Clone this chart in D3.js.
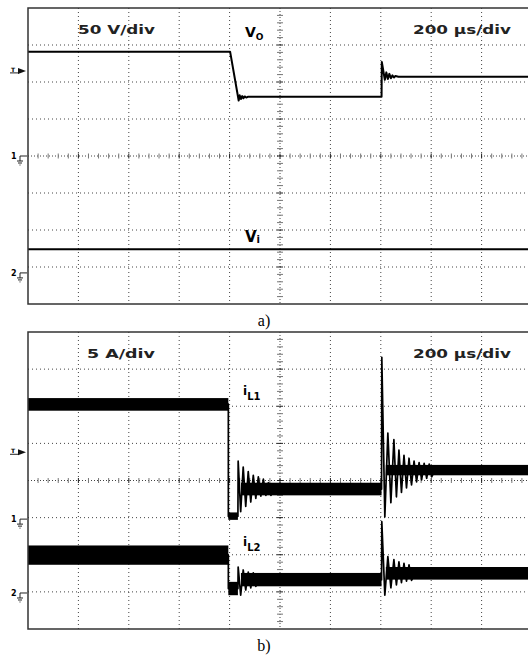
<!DOCTYPE html>
<html>
<head>
<meta charset="utf-8">
<script src="https://cdn.jsdelivr.net/npm/d3@7"></script>
<style>
  body { margin: 0; background: #fff; }
  svg { display: block; }
</style>
</head>
<body>
<svg id="chart" width="528" height="658"></svg>
<script>

// time base: 200 us/div, 10 div
const timeDomain = [0, 2000];

// panel a) ch1 = Vo (50 V/div), ch2 = Vi (50 V/div)
const voT = [0, 802, 836, 840, 845, 850, 855, 860, 866, 872, 880, 1403, 1404, 1416, 1422, 1428, 1434, 1440, 1446, 1452, 1458, 1470, 2010];
const voV = [141, 141, 75, 82, 77, 81, 78, 80.5, 79, 80, 80, 80, 127, 103, 113, 104, 111, 105, 109, 106, 108, 107, 107];
const viT = [0, 2010];
const viV = [32, 32];

// panel b) ch1 = iL1 (5 A/div), ch2 = iL2 (5 A/div)
const iL1T = [0, 795, 795, 833, 834, 844, 854, 864, 874, 884, 894, 904, 914, 924, 934, 944, 954, 964, 975,
  1403, 1404, 1416, 1428, 1440, 1452, 1462, 1472, 1482, 1492, 1502, 1512, 1522, 1532, 1542, 1552, 1562, 1572, 1582, 1592, 1602, 1615, 2010];
const iL1A = [15.5, 15.5, 0.4, 0.4, 7.8, 1.0, 7.0, 1.7, 6.4, 2.3, 5.9, 2.8, 5.7, 3.1, 5.4, 3.2, 4.9, 3.2, 4.05,
  4.05, 21.8, 0.3, 11.6, 2.2, 10.7, 3.0, 9.3, 3.6, 8.6, 4.2, 8.2, 4.6, 7.8, 5.0, 7.6, 5.3, 7.5, 5.5, 7.4, 5.7, 6.6, 6.6];
// noise bands: [t0, t1, low, high]
const iL1Bands = [[0, 795, 14.6, 16.3], [795, 833, -0.1, 0.9], [845, 1403, 3.2, 4.9], [1420, 2010, 5.9, 7.3]];

const iL2T = [0, 795, 795, 833, 834, 844, 854, 864, 874, 884, 894, 904, 915,
  1403, 1404, 1416, 1428, 1440, 1452, 1462, 1472, 1482, 1492, 1502, 1512, 1522, 1535, 2010];
const iL2A = [5.1, 5.1, 0.6, 0.6, 3.5, -0.3, 3.1, 0.4, 2.8, 0.7, 2.7, 0.9, 1.8,
  1.8, 9.6, -0.3, 4.9, 0.7, 4.5, 1.1, 4.2, 1.4, 4.0, 1.6, 3.8, 1.7, 2.6, 2.6];
const iL2Bands = [[0, 795, 3.8, 6.4], [795, 833, -0.3, 1.5], [845, 1403, 0.9, 2.7], [1420, 2010, 1.8, 3.5]];

// layout
const left = 28, right = 532;
const panels = [
  { top: 8, bottom: 304, scale: '50 V/div', scaleX: 78, scaleW: 77, textY: 34, caption: 'a)', capY: 326 },
  { top: 332, bottom: 629, scale: '5 A/div', scaleX: 87, scaleW: 68, textY: 358, caption: 'b)', capY: 651 }
];

const svg = d3.select('#chart');
const x = d3.scaleLinear().domain(timeDomain).range([left, right]);

// y scale for a channel, in divisions around the screen centre
function divScale(p) {
  return d3.scaleLinear().domain([-4, 4]).range([p.bottom, p.top]);
}
function chanScale(p, groundDiv, perDiv) {
  return d3.scaleLinear()
    .domain([(-4 - groundDiv) * perDiv, (4 - groundDiv) * perDiv])
    .range([p.bottom, p.top]);
}

panels.forEach(function (p, k) {
  const g = svg.append('g');
  const yd = divScale(p);
  const cx = x(1000), cy = yd(0);

  g.append('clipPath').attr('id', 'clip' + k)
    .append('rect').attr('x', left).attr('y', p.top)
    .attr('width', right - left).attr('height', p.bottom - p.top);

  const grid = g.append('g').attr('clip-path', 'url(#clip' + k + ')');

  // dotted grid
  grid.selectAll('.vgrid').data(d3.range(1, 10).filter(d => d != 5))
    .enter().append('line')
    .attr('x1', d => x(d * 200)).attr('x2', d => x(d * 200))
    .attr('y1', p.top).attr('y2', p.bottom)
    .attr('stroke', '#444').attr('stroke-width', 1).attr('stroke-dasharray', '1,3');

  grid.selectAll('.hgrid').data([-3, -2, -1, 1, 2, 3])
    .enter().append('line')
    .attr('y1', d => yd(d)).attr('y2', d => yd(d))
    .attr('x1', left).attr('x2', right)
    .attr('stroke', '#444').attr('stroke-width', 1).attr('stroke-dasharray', '1,3');

  // centre axes with minor ticks
  grid.append('line').attr('x1', cx).attr('x2', cx).attr('y1', p.top).attr('y2', p.bottom)
    .attr('stroke', '#444').attr('stroke-dasharray', '1,2');
  grid.append('line').attr('y1', cy).attr('y2', cy).attr('x1', left).attr('x2', right)
    .attr('stroke', '#444').attr('stroke-dasharray', '1,2');

  grid.selectAll('.xtick').data(d3.range(1, 50))
    .enter().append('line')
    .attr('x1', d => x(d * 40)).attr('x2', d => x(d * 40))
    .attr('y1', cy - 2.5).attr('y2', cy + 2.5)
    .attr('stroke', d => d % 5 == 0 ? '#222' : '#777').attr('stroke-width', 1);

  grid.selectAll('.ytick').data(d3.range(-19, 20))
    .enter().append('line')
    .attr('y1', d => yd(d / 5)).attr('y2', d => yd(d / 5))
    .attr('x1', cx - 3).attr('x2', cx + 3)
    .attr('stroke', d => d % 5 == 0 ? '#222' : '#777').attr('stroke-width', 1);

  // scale texts
  g.append('text').attr('x', p.scaleX).attr('y', p.textY)
    .attr('textLength', p.scaleW).attr('lengthAdjust', 'spacingAndGlyphs')
    .style('font', 'bold 13px "DejaVu Sans"').attr('fill', '#222')
    .text(p.scale);
  g.append('text').attr('x', 413).attr('y', p.textY)
    .attr('textLength', 98).attr('lengthAdjust', 'spacingAndGlyphs')
    .style('font', 'bold 13px "DejaVu Sans"').attr('fill', '#222')
    .text('200 \u00b5s/div');

  // caption
  svg.append('text').attr('x', 264).attr('y', p.capY)
    .attr('text-anchor', 'middle')
    .style('font', '16px "Liberation Serif"')
    .text(p.caption);

  p.g = g;
  p.traces = grid;
});

// frame drawn last so it sits over grid
panels.forEach(function (p) {
  p.g.append('rect').attr('x', left).attr('y', p.top)
    .attr('width', right - left).attr('height', p.bottom - p.top)
    .attr('fill', 'none').attr('stroke', '#333').attr('stroke-width', 1.5);
});

// channel markers on the left edge
function groundMarker(label, y) {
  const m = svg.append('g');
  m.append('text').attr('x', 11).attr('y', y + 3)
    .style('font', 'bold 8px "DejaVu Sans"').text(label);
  m.append('path')
    .attr('d', 'M20,' + y + 'H27M20,' + y + 'V' + (y + 5) +
      'M17,' + (y + 5) + 'H23M18,' + (y + 7) + 'H22M19.5,' + (y + 9) + 'H20.5')
    .attr('stroke', '#222').attr('stroke-width', 1).attr('fill', 'none');
}
function trigMarker(y) {
  const m = svg.append('g');
  m.append('text').attr('x', 11).attr('y', y + 1)
    .style('font', 'bold 6px "DejaVu Sans"').text('T');
  m.append('path').attr('d', 'M10,' + (y + 2) + 'H19')
    .attr('stroke', '#222').attr('stroke-width', 1);
  m.append('path').attr('d', 'M18,' + (y - 3) + 'L26,' + y + 'L18,' + (y + 3) + 'Z')
    .attr('fill', '#111');
}

function drawLine(p, yScale, ts, vs, width) {
  const pts = ts.map((t, i) => [t, vs[i]]);
  p.traces.append('path').datum(pts)
    .attr('d', d3.line().x(d => x(d[0])).y(d => yScale(d[1])))
    .attr('fill', 'none').attr('stroke', '#000')
    .attr('stroke-width', width).attr('stroke-linejoin', 'round');
}
function drawBands(p, yScale, bands) {
  p.traces.selectAll(null).data(bands).enter().append('rect')
    .attr('x', d => x(d[0])).attr('width', d => x(d[1]) - x(d[0]))
    .attr('y', d => yScale(d[3])).attr('height', d => yScale(d[2]) - yScale(d[3]))
    .attr('fill', '#000');
}

// panel a
const pa = panels[0];
const yVo = chanScale(pa, 0, 50);
const yVi = chanScale(pa, -3.16, 50);
drawLine(pa, yVo, voT, voV, 2);
drawLine(pa, yVi, viT, viV, 2.2);
trigMarker(yVo(115));
groundMarker('1', yVo(0));
groundMarker('2', yVi(0));

pa.g.append('text').attr('x', 245).attr('y', 37)
  .style('font', 'bold 14px "DejaVu Sans"')
  .text('V').append('tspan').attr('dy', 3).style('font-size', '9px').text('O');
pa.g.append('text').attr('x', 245).attr('y', 242)
  .style('font', 'bold 15px "DejaVu Sans"')
  .text('V').append('tspan').attr('dy', 1).style('font-size', '10px').text('i');

// panel b
const pb = panels[1];
const yL1 = chanScale(pb, -1.04, 5);
const yL2 = chanScale(pb, -3.03, 5);
drawBands(pb, yL1, iL1Bands);
drawBands(pb, yL2, iL2Bands);
drawLine(pb, yL1, iL1T, iL1A, 1.7);
drawLine(pb, yL2, iL2T, iL2A, 1.7);
trigMarker(yL1(9));
groundMarker('1', yL1(0));
groundMarker('2', yL2(0));

pb.g.append('text').attr('x', 243).attr('y', 395)
  .style('font', 'bold 12px "DejaVu Sans"')
  .text('i').append('tspan').attr('dy', 5).style('font-size', '10px').text('L1');
pb.g.append('text').attr('x', 243).attr('y', 546)
  .style('font', 'bold 12px "DejaVu Sans"')
  .text('i').append('tspan').attr('dy', 5).style('font-size', '10px').text('L2');

</script>
</body>
</html>
